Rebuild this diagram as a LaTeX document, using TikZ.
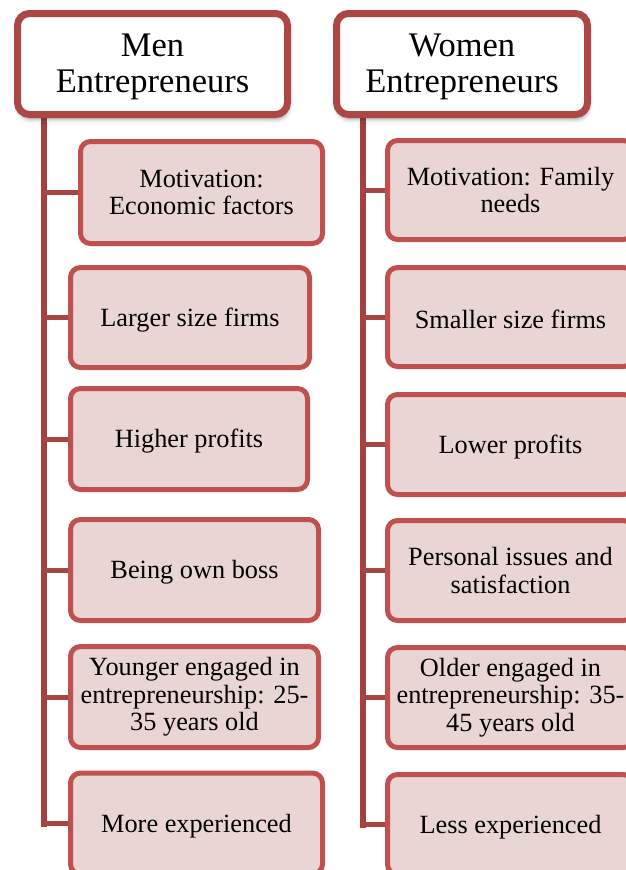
\documentclass[tikz,border=0pt]{standalone}
\usepackage{fontspec}
\setmainfont{Liberation Serif}
\newfontfamily\chartfont{Liberation Serif}
\usetikzlibrary{backgrounds,shadows.blur}

\definecolor{headline}{HTML}{AC4745}
\definecolor{trunkred}{HTML}{A24140}
\definecolor{boxline}{HTML}{C0504D}
\definecolor{boxfill}{HTML}{EAD5D5}
\definecolor{ink}{HTML}{000000}

\tikzset{
  headbox/.style={draw=headline, line width=7pt, fill=white, rounded corners=12pt,
    inner sep=0pt, align=center, text=ink, font=\chartfont\fontsize{34.5}{36}\selectfont,
    blur shadow={shadow xshift=1pt, shadow yshift=-5pt, shadow blur radius=4pt, shadow opacity=35}},
  itembox/.style={draw=boxline, line width=5pt, fill=boxfill, rounded corners=10pt,
    inner sep=0pt, align=center, text=ink, font=\chartfont\fontsize{26.3}{27.5}\selectfont,
    execute at begin node={\rule{0pt}{23.5pt}}},
  trunk/.style={draw=trunkred, line width=6pt, line cap=rect},
  branch/.style={draw=trunkred!80!boxline, line width=5pt, line cap=rect},
}

\begin{document}
\begin{tikzpicture}[x=1pt, y=-1pt]
  \useasboundingbox (0,0) rectangle (626,870);
  \clip (0,0) rectangle (626,870);

  % column headers
  \node[headbox, minimum width=270pt, minimum height=101pt] (menhead) at (152.5,64)
    {\rule{0pt}{29pt}Men\\Entrepreneurs};
  \node[headbox, minimum width=251pt, minimum height=101pt] (womenhead) at (462,64)
    {\rule{0pt}{29pt}Women\\Entrepreneurs};

  % men column
  \node[itembox, minimum width=242pt, minimum height=102pt] (m1) at (201.5,192.5)
    {Motivation:\\Economic factors};
  \node[itembox, minimum width=239pt, minimum height=100pt] (m2) at (190,317.5)
    {Larger size firms};
  \node[itembox, minimum width=237pt, minimum height=101pt] (m3) at (189,439)
    {Higher profits};
  \node[itembox, minimum width=248pt, minimum height=101pt] (m4) at (194.5,570)
    {Being own boss};
  \node[itembox, minimum width=248pt, minimum height=101pt] (m5) at (194.5,697)
    {Younger engaged in\\entrepreneurship: 25-\\35 years old};
  \node[itembox, minimum width=252pt, minimum height=101pt] (m6) at (196.5,823.5)
    {More experienced};

  % women column
  \node[itembox, minimum width=246pt, minimum height=99pt] (w1) at (510.5,190)
    {Motivation: Family\\needs};
  \node[itembox, minimum width=246pt, minimum height=99pt] (w2) at (510.5,317)
    {Smaller size firms};
  \node[itembox, minimum width=246pt, minimum height=100pt] (w3) at (510.5,444.5)
    {Lower profits};
  \node[itembox, minimum width=246pt, minimum height=100pt] (w4) at (510.5,570.5)
    {Personal issues and\\satisfaction};
  \node[itembox, minimum width=246pt, minimum height=100pt] (w5) at (510.5,697.5)
    {Older engaged in\\entrepreneurship: 35-\\45 years old};
  \node[itembox, minimum width=246pt, minimum height=100pt] (w6) at (510.5,824.5)
    {Less experienced};

  % trunk tops, just under each header
  \coordinate (mt) at (44,112);
  \coordinate (wt) at (363,112);

  \begin{pgfonlayer}{background}
    \draw[trunk] (mt) -- (mt |- m6.west);
    \foreach \b in {m1,m2,m3,m4,m5,m6}
      \draw[branch] (mt |- \b.west) -- (\b.west);
    \draw[trunk] (wt) -- (wt |- w6.west);
    \foreach \b in {w1,w2,w3,w4,w5,w6}
      \draw[branch] (wt |- \b.west) -- (\b.west);
  \end{pgfonlayer}
\end{tikzpicture}
\end{document}
